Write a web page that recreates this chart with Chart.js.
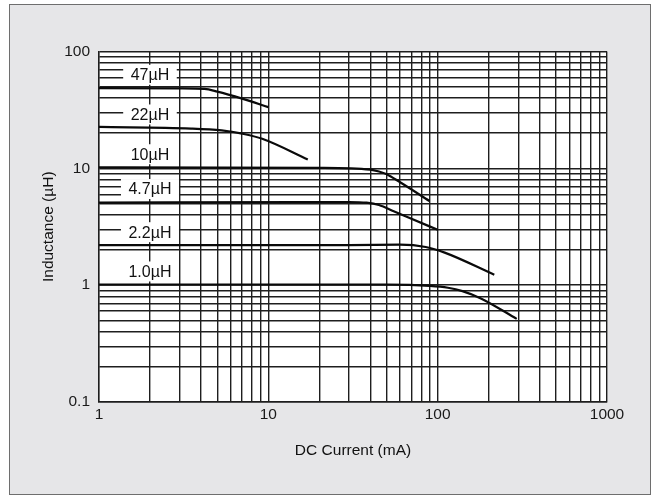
<!DOCTYPE html>
<html>
<head>
<meta charset="utf-8">
<script src="https://cdn.jsdelivr.net/npm/chart.js@4/dist/chart.umd.min.js"></script>
<style>
  body { margin: 0; background: #fff; }
  #frame { position: absolute; left: 9px; top: 4px; width: 640px; height: 489px; background: #e6e6e8; border: 1px solid #6e6e6e; }
  #chart { position: absolute; left: 0; top: 0; }
</style>
</head>
<body>
<div id="frame"></div>
<canvas id="chart" width="658" height="497"></canvas>
<script>

    // curve data (mA, uH)
    var current47 = [1, 3, 4.2, 5, 7, 10];
    var induct47  = [48.5, 48.3, 47.8, 45.3, 39.5, 33.4];

    var current22 = [1, 3.5, 5.3, 7, 9.2, 17.1];
    var induct22  = [22.6, 21.9, 21.1, 19.8, 17.9, 11.9];

    var current10 = [1, 20, 40, 45, 50, 60, 89.5];
    var induct10  = [10.2, 10.1, 9.75, 9.4, 8.9, 7.6, 5.25];

    var current4_7 = [1, 15, 30, 38, 45, 55, 70, 100];
    var induct4_7  = [5.08, 5.15, 5.15, 5.08, 4.85, 4.3, 3.7, 2.98];

    var current2_2 = [1, 30, 60, 85, 110, 216];
    var induct2_2  = [2.2, 2.2, 2.22, 2.12, 1.9, 1.23];

    var current1_0 = [1, 50, 90, 115, 140, 180, 293];
    var induct1_0  = [1.01, 1.01, 0.985, 0.95, 0.89, 0.77, 0.515];

    var curveNames = ['47\u00b5H', '22\u00b5H', '10\u00b5H', '4.7\u00b5H', '2.2\u00b5H', '1.0\u00b5H'];
    var labelCurrent = 2;
    var labelInduct = [63.2, 28.9, 13.2, 6.65, 2.84, 1.31];

    var xTickValues = [1, 10, 100, 1000];
    var xTickLabels = ['1', '10', '100', '1000'];
    var yTickValues = [0.1, 1, 10, 100];
    var yTickLabels = ['0.1', '1', '10', '100'];

    var seriesX = [current47, current22, current10, current4_7, current2_2, current1_0];
    var seriesY = [induct47, induct22, induct10, induct4_7, induct2_2, induct1_0];

    var gridColor = '#1e1e1e';
    var fontFamily = '"Liberation Sans", Arial, sans-serif';

    function logTicks(min, max) {
      var out = [];
      for (var e = Math.floor(Math.log10(min)); e <= Math.ceil(Math.log10(max)); e++) {
        for (var m = 1; m <= 9; m++) {
          var v = Number((m * Math.pow(10, e)).toPrecision(3));
          if (v >= min && v <= max) out.push({ value: v });
        }
      }
      return out;
    }

    var datasets = seriesX.map(function (xs, i) {
      return {
        label: curveNames[i],
        data: xs.map(function (x, j) { return { x: x, y: seriesY[i][j] }; }),
        showLine: true,
        borderColor: '#0a0a0a',
        borderWidth: 2.2,
        pointRadius: 0,
        cubicInterpolationMode: 'monotone',
        fill: false
      };
    });

    var plotBackground = {
      id: 'plotBackground',
      beforeDraw: function (chart) {
        var a = chart.chartArea, ctx = chart.ctx;
        ctx.save();
        ctx.fillStyle = '#ffffff';
        ctx.fillRect(a.left, a.top, a.right - a.left, a.bottom - a.top);
        ctx.restore();
      }
    };

    var curveLabels = {
      id: 'curveLabels',
      afterDatasetsDraw: function (chart) {
        var ctx = chart.ctx, xs = chart.scales.x, ys = chart.scales.y;
        ctx.save();
        ctx.font = '16px ' + fontFamily;
        ctx.textAlign = 'center';
        ctx.textBaseline = 'middle';
        curveNames.forEach(function (t, i) {
          var px = xs.getPixelForValue(labelCurrent);
          var py = ys.getPixelForValue(labelInduct[i]);
          var w = ctx.measureText(t).width + 15;
          ctx.fillStyle = '#ffffff';
          ctx.fillRect(px - w / 2, py - 10, w, 20);
          ctx.fillStyle = '#111';
          ctx.fillText(t, px, py + 1);
        });
        ctx.restore();
      }
    };

    var config = {
      type: 'scatter',
      data: { datasets: datasets },
      options: {
        responsive: false,
        animation: false,
        layout: { padding: { left: 0, right: 51, top: 51.5, bottom: 35 } },
        plugins: { legend: { display: false }, tooltip: { enabled: false } },
        scales: {
          x: {
            type: 'logarithmic',
            min: 1,
            max: 1000,
            afterBuildTicks: function (scale) { scale.ticks = logTicks(1, 1000); },
            afterFit: function (scale) { scale.height = 60; },
            grid: { color: gridColor, lineWidth: 1.4, drawTicks: false },
            border: { display: true, color: gridColor, width: 1.4 },
            ticks: {
              autoSkip: false,
              maxRotation: 0,
              padding: 3,
              color: '#1a1a1a',
              font: { family: fontFamily, size: 15.5 },
              callback: function (value) {
                var i = xTickValues.indexOf(value);
                return i >= 0 ? xTickLabels[i] : '';
              }
            },
            title: {
              display: true,
              text: 'DC Current (mA)',
              color: '#111',
              font: { family: fontFamily, size: 15.5 },
              padding: { top: 0, bottom: 2 }
            }
          },
          y: {
            type: 'logarithmic',
            min: 0.1,
            max: 100,
            afterBuildTicks: function (scale) { scale.ticks = logTicks(0.1, 100); },
            afterFit: function (scale) { scale.width = 99; },
            grid: { color: gridColor, lineWidth: 1.4, drawTicks: false },
            border: { display: true, color: gridColor, width: 1.4 },
            ticks: {
              autoSkip: false,
              padding: 9,
              color: '#1a1a1a',
              font: { family: fontFamily, size: 15.5 },
              callback: function (value) {
                var i = yTickValues.indexOf(value);
                return i >= 0 ? yTickLabels[i] : '';
              }
            },
            title: {
              display: true,
              text: 'Inductance (\u00b5H)',
              color: '#111',
              font: { family: fontFamily, size: 15.5 },
              padding: { top: 39, bottom: 0 }
            }
          }
        }
      },
      plugins: [plotBackground, curveLabels]
    };

    window.onload = function () {
      var ctx = document.getElementById('chart').getContext('2d');
      window.inductChart = new Chart(ctx, config);
    };

</script>
</body>
</html>
